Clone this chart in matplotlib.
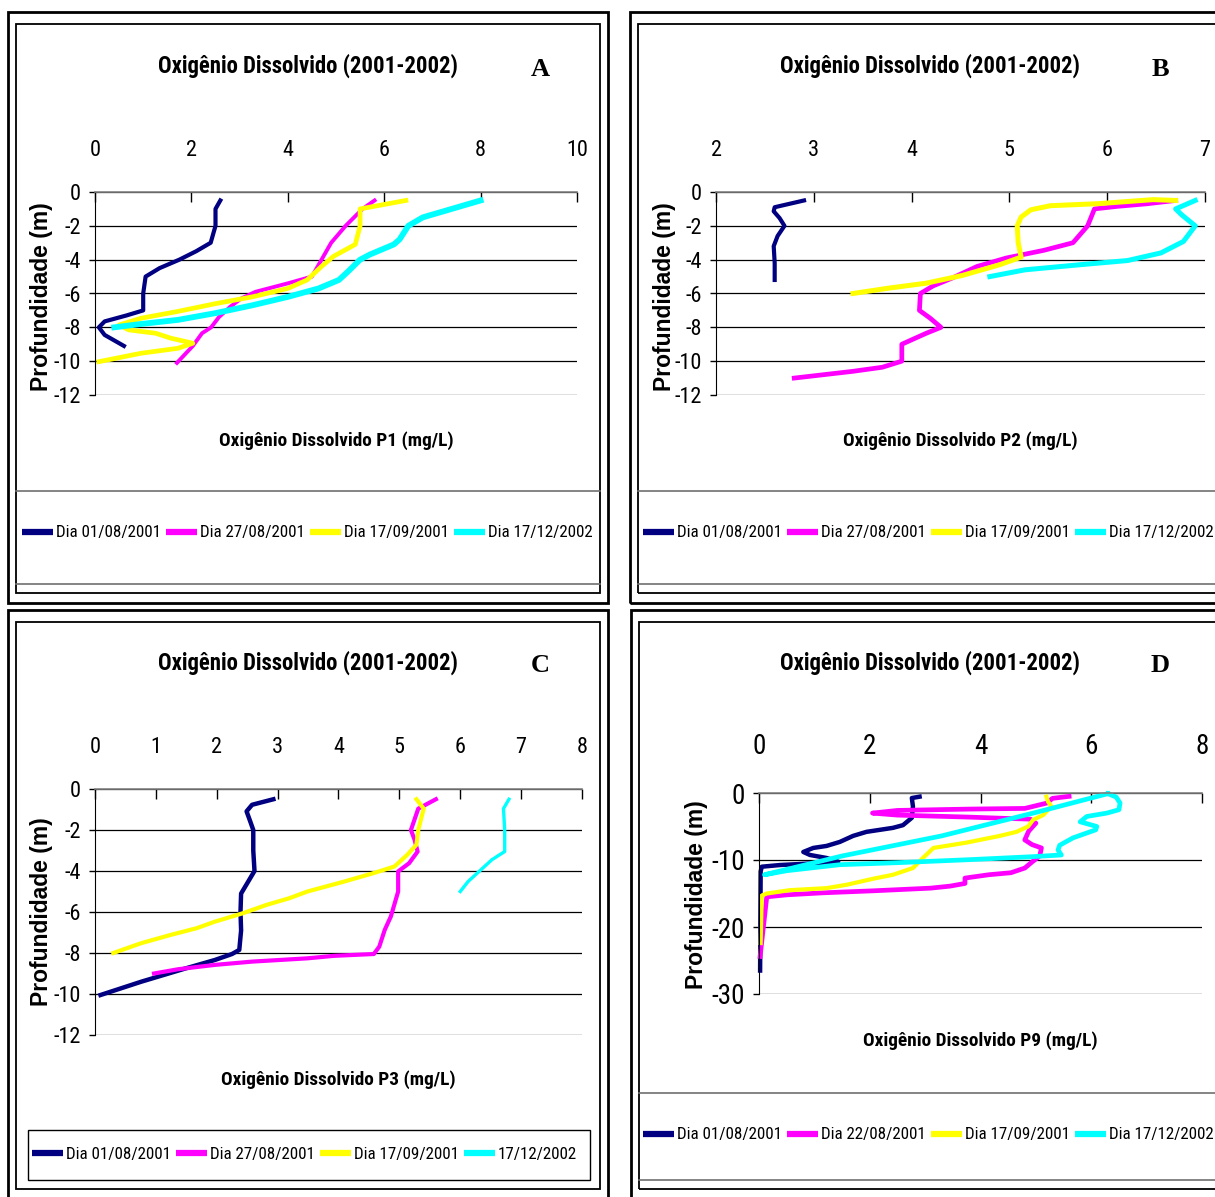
import matplotlib
matplotlib.use("Agg")
import matplotlib.pyplot as plt
from matplotlib import font_manager
from matplotlib.patches import Rectangle
from matplotlib.lines import Line2D

# ── fonts: prefer a narrow sans (the original uses Arial Narrow) ─────────────
fonts = font_manager.fontManager.ttflist
names = {f.name for f in fonts}
NARROW, STRETCH = "Liberation Sans", "normal"
for cand in ["Liberation Sans Narrow", "Arial Narrow", "Roboto Condensed",
             "Open Sans Condensed", "DejaVu Sans Condensed"]:
    if cand in names:
        NARROW = cand
        break
else:
    if any(f.name == "DejaVu Sans" and f.stretch == "condensed" for f in fonts):
        NARROW, STRETCH = "DejaVu Sans", "condensed"
plt.rcParams["font.family"] = [NARROW, "DejaVu Sans"]
plt.rcParams["font.stretch"] = STRETCH
plt.rcParams["axes.unicode_minus"] = False

# ── data (OD mg/L, depth m) ───────────────────────────────────────────────────
# P1
a1_od = [2.6, 2.5, 2.5, 2.4, 2.1, 1.75, 1.34, 1.05, 1.0, 1.0, 0.65, 0.2, 0.08, 0.2, 0.6]
a1_z = [-0.5, -1, -2, -3, -3.5, -4, -4.5, -5, -6, -7, -7.3, -7.65, -8, -8.45, -9.1]
a2_od = [5.8, 5.55, 5.2, 4.9, 4.7, 4.5, 4.0, 3.33, 3.03, 2.8, 2.57, 2.41, 2.22, 2.03, 1.7]
a2_z = [-0.5, -1, -2, -3, -4, -5, -5.4, -5.9, -6.3, -6.8, -7.4, -8, -8.35, -9.1, -10.1]
a3_od = [6.45, 5.5, 5.5, 5.4, 4.95, 4.7, 4.4, 4.0, 3.26, 2.5, 1.7, 0.96, 0.5, 0.7,
         1.26, 1.57, 2.03, 1.72, 0.96, 0.08]
a3_z = [-0.5, -1, -2, -3.1, -3.8, -4.4, -5.2, -5.7, -6.2, -6.6, -7.07, -7.46, -7.86, -8.15,
        -8.35, -8.64, -8.94, -9.24, -9.53, -10.03]
a4_od = [8.0, 7.4, 6.8, 6.5, 6.32, 6.2, 5.7, 5.5, 5.25, 5.06, 4.64, 4.0, 3.26, 2.5, 1.72, 0.96, 0.4]
a4_z = [-0.5, -1, -1.5, -2, -2.8, -3.1, -3.7, -4, -4.7, -5.2, -5.7, -6.2, -6.7, -7.16, -7.56, -7.8, -8]

# P2
b1_od = [2.9, 2.6, 2.59, 2.65, 2.7, 2.63, 2.59, 2.6, 2.6]
b1_z = [-0.5, -0.9, -1.14, -1.54, -2, -2.6, -3.2, -4.2, -5.2]
b2_od = [6.7, 6.4, 6.1, 5.87, 5.8, 5.65, 5.35, 4.97, 4.67, 4.41, 4.22, 4.09, 4.08, 4.19, 4.3,
         4.15, 4.0, 3.9, 3.9, 3.7, 3.4, 2.8]
b2_z = [-0.5, -0.7, -0.85, -1, -2, -3, -3.45, -3.9, -4.4, -5.1, -5.55, -6, -7, -7.46, -8,
        -8.35, -8.74, -9, -10, -10.36, -10.6, -11]
b3_od = [6.7, 6.47, 5.91, 5.42, 5.22, 5.12, 5.08, 5.09, 5.12, 4.9, 4.52, 4.15, 3.77, 3.4]
b3_z = [-0.5, -0.45, -0.69, -0.81, -1.05, -1.48, -2, -3, -3.85, -4.3, -4.93, -5.39, -5.68, -6]
b4_od = [6.9, 6.7, 6.76, 6.9, 6.78, 6.55, 6.21, 5.72, 5.16, 4.8]
b4_z = [-0.5, -1, -1.34, -2, -2.92, -3.6, -4.05, -4.3, -4.6, -5]

# P3
c1_od = [2.93, 2.58, 2.49, 2.55, 2.6, 2.6, 2.62, 2.52, 2.4, 2.39, 2.4, 2.37, 2.25, 1.97,
         1.49, 0.76, 0.09]
c1_z = [-0.5, -0.77, -1.09, -1.58, -2, -3, -4, -4.5, -5.1, -6, -6.9, -7.85, -8.05, -8.34,
        -8.75, -9.4, -10.05]
c2_od = [5.6, 5.31, 5.19, 5.25, 5.3, 5.16, 4.98, 4.98, 4.86, 4.76, 4.67, 4.58, 4.28, 3.92,
         3.49, 2.58, 1.97, 1.37, 0.97]
c2_z = [-0.5, -0.96, -2, -2.48, -3.05, -3.62, -4.02, -5, -6.22, -6.87, -7.69, -8.05, -8.09,
        -8.14, -8.26, -8.42, -8.58, -8.79, -9]
c3_od = [5.28, 5.4, 5.31, 5.28, 5.13, 4.92, 4.58, 4.1, 3.49, 3.19, 2.82, 2.43, 1.97, 1.67,
         1.24, 0.76, 0.3]
c3_z = [-0.5, -0.96, -2, -2.72, -3.21, -3.78, -4.1, -4.51, -5, -5.33, -5.65, -6.06, -6.47,
        -6.79, -7.12, -7.52, -8]
c4_od = [6.8, 6.71, 6.73, 6.73, 6.52, 6.31, 6.13, 6.0]
c4_z = [-0.5, -0.96, -2, -3.05, -3.45, -4.02, -4.51, -5]

# P9
d1_od = [2.9, 2.76, 2.78, 2.76, 2.6, 2.42, 2.18, 1.94, 1.7, 1.46, 1.22, 0.98, 0.8, 0.92,
         1.22, 1.43, 0.98, 0.38, 0.05, 0.03, 0.02]
d1_z = [-0.55, -0.75, -2, -3.7, -4.8, -5.2, -5.5, -5.8, -6.4, -7.3, -7.9, -8.2, -8.8, -9.25,
        -9.7, -10.25, -10.5, -10.75, -11, -11.7, -26.5]
d2_od = [5.6, 5.3, 5.2, 4.8, 3.8, 2.5, 2.05, 2.5, 3.8, 4.5, 4.9, 5.0, 4.87, 4.8, 4.93, 5.1,
         5.07, 4.93, 4.8, 4.55, 4.15, 3.72, 3.72, 3.45, 3.1, 2.06, 1.15, 0.5, 0.14, 0.02]
d2_z = [-0.5, -0.8, -1.5, -2.3, -2.4, -2.6, -3.0, -3.3, -3.6, -3.8, -3.9, -4.5, -5.7, -7,
        -7.7, -8.2, -9.4, -10.3, -11.2, -11.9, -12.2, -12.7, -13.5, -13.9, -14.2, -14.6,
        -14.9, -15.2, -15.5, -24.4]
d3_od = [5.19, 5.22, 5.28, 5.13, 4.95, 4.86, 4.65, 4.35, 3.75, 3.15, 2.96, 2.78, 2.42, 2.06,
         1.58, 1.22, 0.56, 0.14, 0.05, 0.03]
d3_z = [-0.55, -1.3, -2, -3.3, -4, -5, -5.8, -6.4, -7.4, -8.2, -9.7, -11.2, -12.2, -12.8,
        -13.7, -14.2, -14.5, -15, -15.3, -22.4]
d4_od = [6.3, 6.45, 6.52, 6.5, 6.28, 5.92, 5.8, 6.1, 6.08, 5.67, 5.43, 5.4, 5.46, 4.95, 3.8,
         2.5, 1.46, 0.5, 0.1, 1.5, 3.3, 5.0, 6.3]
d4_z = [-0.1, -0.6, -1.5, -2.5, -3, -3.5, -4.3, -5, -5.5, -6.7, -7.8, -8.5, -9.25, -9.5, -9.95,
        -10.4, -10.7, -11.6, -12.2, -9.4, -6.4, -2.9, -0.1]

labels_a = ["Dia 01/08/2001", "Dia 27/08/2001", "Dia 17/09/2001", "Dia 17/12/2002"]
labels_c = ["Dia 01/08/2001", "Dia 27/08/2001", "Dia 17/09/2001", "17/12/2002"]
labels_d = ["Dia 01/08/2001", "Dia 22/08/2001", "Dia 17/09/2001", "Dia 17/12/2002"]

COLORS = ["#000080", "#FF00FF", "#FFFF00", "#00FFFF"]
TITLE = "Oxigênio Dissolvido (2001-2002)"

# ── figure ────────────────────────────────────────────────────────────────────
W, H = 1215, 1197
fig = plt.figure(figsize=(W / 100, H / 100), dpi=100)
renderer = fig.canvas.get_renderer()


def fit(s, target_px, weight="normal", base=20):
    # font size (pt) that gives the string the width it has in the original
    t = fig.text(0, 0, s, fontsize=base, fontweight=weight)
    w = t.get_window_extent(renderer).width
    t.remove()
    return base * target_px / w


FS_TITLE = min(16.4, 1.12 * fit(TITLE, 297, "bold"))
FS_XLAB = min(13.9, 1.12 * fit("Oxigênio Dissolvido P1 (mg/L)", 232, "bold"))
FS_LEG = 1.02 * fit("Dia 01/08/2001", 103)
FS_TICK = 16
FS_TICK_D = 19.5


def fx(x):
    return x / W


def fy(y):
    return 1 - y / H


def frame(x0, y0, x1, y1, lw, color="black"):
    fig.add_artist(Rectangle((fx(x0), fy(y1)), (x1 - x0) / W, (y1 - y0) / H,
                             transform=fig.transFigure, fill=False, lw=lw, edgecolor=color))


def hline(x0, x1, y, lw=1.2, color="#707070"):
    fig.add_artist(Line2D([fx(x0), fx(x1)], [fy(y), fy(y)], transform=fig.transFigure,
                          lw=lw, color=color))


def make_axes(l, t, r, b):
    return fig.add_axes([fx(l), fy(b), (r - l) / W, (b - t) / H])


def style(ax, xlim, xticks, ylim, yticks, fs, xpad):
    ax.set_xlim(xlim)
    ax.set_ylim(ylim)
    ax.set_xticks(xticks)
    ax.set_yticks(yticks)
    ax.xaxis.tick_top()
    ax.tick_params(axis="x", direction="in", length=7, width=1, pad=xpad, labelsize=fs)
    ax.tick_params(axis="y", direction="out", length=4, width=1, pad=6, labelsize=fs)
    ax.spines["bottom"].set_visible(False)
    ax.spines["right"].set_visible(False)
    ax.spines["top"].set_color("#808080")
    ax.spines["top"].set_linewidth(1.2)
    ax.yaxis.grid(True, color="black", lw=0.9)
    ax.set_axisbelow(True)
    ax.patch.set_alpha(0)


def panel_text(cx_title, y_title, letter, x_letter, xlabel, cx_xl, y_xl, x_yl, cy_yl):
    fig.text(fx(cx_title), fy(y_title), TITLE, ha="center", va="center",
             fontsize=FS_TITLE, fontweight="bold")
    fig.text(fx(x_letter), fy(y_title + 3), letter, ha="center", va="center",
             fontsize=19, fontweight="bold", family="Liberation Serif", stretch="normal")
    fig.text(fx(cx_xl), fy(y_xl), xlabel, ha="center", va="center",
             fontsize=FS_XLAB, fontweight="bold")
    fig.text(fx(x_yl), fy(cy_yl), "Profundidade (m)", ha="center", va="center",
             rotation=90, fontsize=16.5, fontweight="bold", family="Liberation Sans",
             stretch="normal")


def legend(labels, x_left, cy):
    handles = [Line2D([], [], color=c, lw=4.5, solid_capstyle="butt") for c in COLORS]
    em = FS_LEG * 100 / 72
    fig.legend(handles, labels, loc="center left", bbox_to_anchor=(fx(x_left), fy(cy)),
               bbox_transform=fig.transFigure, ncol=4, frameon=False, fontsize=FS_LEG,
               handlelength=31 / em, handletextpad=3 / em, columnspacing=5 / em,
               borderpad=0, borderaxespad=0)


# ── frames ────────────────────────────────────────────────────────────────────
for (x0, y0, x1, y1) in [(8, 12, 608, 603), (630, 12, 1230, 603),
                         (8, 610, 608, 1199), (631, 610, 1231, 1199)]:
    frame(x0, y0, x1, y1, 2.0)
    frame(x0 + 8, y0 + 12, x1 - 8, y1 - 10, 1.3)
hline(16, 600, 491)
hline(16, 600, 584)
hline(638, 1222, 491)
hline(638, 1222, 584)
hline(639, 1223, 1093)
hline(639, 1223, 1180)
frame(28, 1130, 590, 1180, 1.0)

# ── panel A ───────────────────────────────────────────────────────────────────
ax = make_axes(95, 192, 577, 395)
for od, z, c, lw in zip([a1_od, a2_od, a3_od, a4_od], [a1_z, a2_z, a3_z, a4_z],
                        COLORS, [3.0, 2.8, 3.4, 4.2]):
    ax.plot(od, z, color=c, lw=lw, clip_on=False, solid_joinstyle="round")
style(ax, (0, 10), range(0, 11, 2), (-12, 0), range(-12, 1, 2), FS_TICK, 22)
panel_text(308, 66, "A", 540, "Oxigênio Dissolvido P1 (mg/L)", 336, 441, 42, 297)
legend(labels_a, 22, 533)

# ── panel B ───────────────────────────────────────────────────────────────────
ax = make_axes(716, 192, 1205, 395)
for od, z, c, lw in zip([b1_od, b2_od, b3_od, b4_od], [b1_z, b2_z, b3_z, b4_z],
                        COLORS, [3.0, 3.4, 3.6, 3.6]):
    ax.plot(od, z, color=c, lw=lw, clip_on=False, solid_joinstyle="round")
style(ax, (2, 7), range(2, 8), (-12, 0), range(-12, 1, 2), FS_TICK, 22)
panel_text(930, 66, "B", 1160, "Oxigênio Dissolvido P2 (mg/L)", 960, 441, 665, 297)
legend(labels_a, 643, 533)

# ── panel C ───────────────────────────────────────────────────────────────────
ax = make_axes(95, 789, 582, 1035)
for od, z, c, lw in zip([c1_od, c2_od, c3_od, c4_od], [c1_z, c2_z, c3_z, c4_z],
                        COLORS, [3.2, 3.0, 3.0, 2.4]):
    ax.plot(od, z, color=c, lw=lw, clip_on=False, solid_joinstyle="round")
style(ax, (0, 8), range(0, 9), (-12, 0), range(-12, 1, 2), FS_TICK, 22)
panel_text(308, 663, "C", 540, "Oxigênio Dissolvido P3 (mg/L)", 338, 1080, 42, 912)
legend(labels_c, 32, 1154)

# ── panel D ───────────────────────────────────────────────────────────────────
ax = make_axes(759, 793, 1202, 994)
for od, z, c, lw in zip([d1_od, d2_od, d3_od, d4_od], [d1_z, d2_z, d3_z, d4_z],
                        COLORS, [3.2, 3.4, 3.0, 3.4]):
    ax.plot(od, z, color=c, lw=lw, clip_on=False, solid_joinstyle="round")
style(ax, (0, 8), range(0, 9, 2), (-30, 0), range(-30, 1, 10), FS_TICK_D, 24)
panel_text(930, 663, "D", 1160, "Oxigênio Dissolvido P9 (mg/L)", 980, 1041, 697, 895)
legend(labels_d, 643, 1135)

fig.savefig("out.png", dpi=100)
